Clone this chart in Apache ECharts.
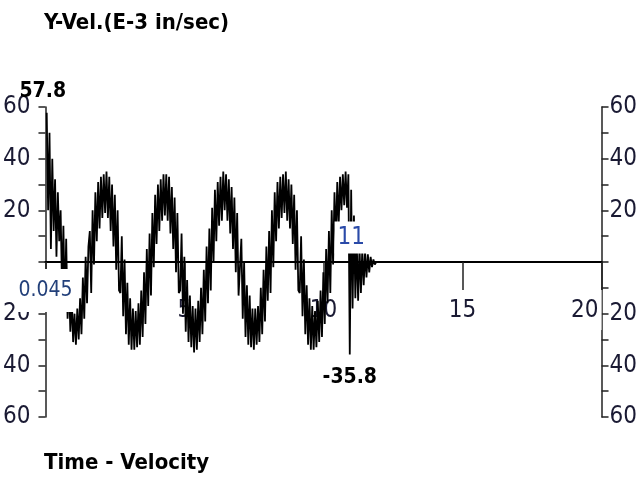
<!DOCTYPE html>
<html>
<head>
<meta charset="utf-8">
<script src="https://cdn.jsdelivr.net/npm/echarts@6/dist/echarts.min.js"></script>
<style>
html,body{margin:0;padding:0;background:#fff;}
#chart{width:640px;height:492px;}
</style>
</head>
<body>
<div id="chart"></div>
<script>
// ---- data ----
const titleText = 'Y-Vel.(E-3 in/sec)';
const footerText = 'Time - Velocity';
const startTimeLabel = '0.045';
const markerLabel = '11';
const markerTime = 11.0;
const timeStart = 0.045;   // s, first sample
const timeStep = 0.05;     // s, sample spacing
const velocity = [
  // start-up
  57.8, 20, 50, 5, 40, 12, 32, 2, 27, 8, 20, -10, 14, -18, 9, -22,
  -8, -27, -14, -31, -20, -32, -18, -30, -14, -28, -6, -22, 2, -16, 6,
  // cycle 1
  12, -12, 20, -1, 27, 8, 31, 13, 33, 17, 34, 19, 35, 17, 33, 12, 30, 6, 26, -3, 20, -11,
  -12, 10, -21, 1, -28, -8, -32, -14, -34, -18, -34, -19, -33, -16, -32, -11, -29, -4, -24, 5, -17,
  // cycle 2
  11, -13, 19, -2, 26, 7, 30, 12, 32, 16, 34, 18, 34, 16, 33, 11, 29, 5, 25, -4, 19, -12,
  -11, 11, -20, 2, -27, -7, -31, -13, -33, -17, -35, -18, -34, -15, -31, -10, -28, -3, -23, 6, -16,
  // cycle 3
  13, -11, 21, 0, 28, 8, 31, 14, 33, 16, 35, 20, 34, 16, 32, 11, 29, 5, 25, -4, 19, -13,
  -13, 9, -22, 0, -29, -9, -32, -13, -33, -18, -34, -18, -32, -17, -31, -10, -28, -3, -23, 6, -15,
  // cycle 4
  12, -12, 20, -2, 27, 8, 31, 13, 33, 17, 34, 19, 35, 16, 32, 13, 30, 7, 26, -3, 20, -11,
  -12, 10, -21, 1, -28, -9, -32, -14, -34, -17, -34, -19, -33, -15, -31, -11, -29, -4, -24, 5, -16,
  // last rise, minimum spike, decay
  12, -12, 20, -1, 27, 8, 31, 14, 33, 20, 34, 22, 35, 21, 34,
  -35.8,
  28, -18, 18, -14, 8, -15, 6, -12, 5, -9, 4, -6, 3, -4, 2, -2, 1, -1, 0, 0, 0
];
const xMin = 0, xMax = 20, xInterval = 5;
const yMin = -60, yMax = 60, yInterval = 10, yLabelEvery = 20;

const seriesData = velocity.map((v, i) => [+(timeStart + i * timeStep).toFixed(3), v]);

const FONT = "'DejaVu Sans Condensed', 'Liberation Sans', sans-serif";
const LABEL_COLOR = '#1a1a33';
const AXIS_COLOR = '#222';

const yLabelFmt = v => (v !== 0 && v % yLabelEvery === 0) ? String(Math.abs(v)) : '';

const chart = echarts.init(document.getElementById('chart'), null, {renderer: 'canvas'});
chart.setOption({
  animation: false,
  backgroundColor: '#fff',
  title: [
    {text: titleText, left: 44, top: 12, padding: 0,
     textStyle: {fontFamily: FONT, fontSize: 22, fontWeight: 'bold', color: '#000'}},
    {text: footerText, left: 44, top: 452, padding: 0,
     textStyle: {fontFamily: FONT, fontSize: 22, fontWeight: 'bold', color: '#000'}}
  ],
  grid: {left: 44, right: 31, top: 107, bottom: 75, containLabel: false},
  xAxis: {
    type: 'value', min: xMin, max: xMax, interval: xInterval, z: 1,
    position: 'bottom', offset: -155,
    axisLine: {onZero: false, lineStyle: {color: '#000', width: 2}},
    axisTick: {length: 28, lineStyle: {color: AXIS_COLOR, width: 1.5}},
    splitLine: {show: false},
    axisLabel: {
      margin: 28, fontFamily: FONT, fontSize: 24, color: LABEL_COLOR,
      backgroundColor: '#fff', padding: [9, 3, 7, 3],
      alignMaxLabel: 'right',
      formatter: v => v === 0 ? '' : String(v)
    }
  },
  yAxis: [
    {type: 'value', position: 'left', min: yMin, max: yMax, interval: yInterval, z: 0,
     axisLine: {show: true, lineStyle: {color: AXIS_COLOR, width: 1.5}},
     axisTick: {show: true, length: 7, lineStyle: {color: AXIS_COLOR, width: 1.5}},
     splitLine: {show: false},
     axisLabel: {margin: 15, fontFamily: FONT, fontSize: 24, color: LABEL_COLOR, formatter: yLabelFmt}},
    {type: 'value', position: 'right', min: yMin, max: yMax, interval: yInterval, z: 0,
     axisLine: {show: true, lineStyle: {color: AXIS_COLOR, width: 1.5}},
     axisTick: {show: true, length: 7, lineStyle: {color: AXIS_COLOR, width: 1.5}},
     splitLine: {show: false},
     axisLabel: {margin: 8, fontFamily: FONT, fontSize: 24, color: LABEL_COLOR, formatter: yLabelFmt}}
  ],
  series: [{
    type: 'line', data: seriesData, yAxisIndex: 0, z: 2,
    showSymbol: false, symbol: 'none', smooth: false,
    lineStyle: {color: '#000', width: 1.8},
    markPoint: {
      symbol: 'circle', symbolSize: 1, itemStyle: {color: 'rgba(0,0,0,0)'},
      data: [
        {type: 'max', label: {show: true, position: 'top', distance: 10, offset: [-4, 0],
          formatter: '{c}', fontFamily: FONT, fontSize: 21, fontWeight: 'bold', color: '#000'}},
        {type: 'min', label: {show: true, position: 'bottom', distance: 12,
          formatter: '{c}', fontFamily: FONT, fontSize: 21, fontWeight: 'bold', color: '#000'}},
        {coord: [0, -11], value: startTimeLabel, label: {show: true, position: 'inside',
          formatter: startTimeLabel, fontFamily: FONT, fontSize: 21, color: '#23407a',
          backgroundColor: '#fff', padding: [12, 2, 10, 2]}},
        {coord: [markerTime, 9.5], value: markerLabel, label: {show: true, position: 'inside',
          formatter: markerLabel, fontFamily: FONT, fontSize: 24, color: '#2a4aa8',
          backgroundColor: '#fff', padding: [5, 3, 3, 3]}}
      ]
    }
  }]
});
</script>
</body>
</html>
